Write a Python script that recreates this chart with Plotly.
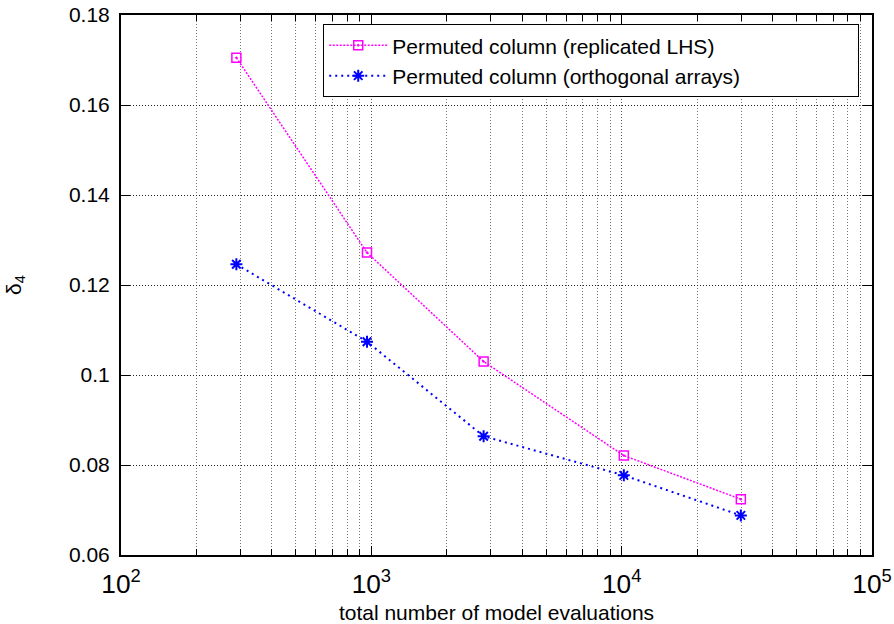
import plotly.graph_objects as go

# total number of model evaluations
n_lhs = [289, 961, 2809, 10201, 29929]
n_oa = [289, 961, 2809, 10201, 29929]

# delta_4 values
delta_lhs = [0.1705, 0.1272, 0.1030, 0.0821, 0.0724]
delta_oa = [0.1246, 0.1074, 0.0864, 0.0777, 0.0688]

names = ["Permuted column (replicated LHS)", "Permuted column (orthogonal arrays)"]

FONT = "Liberation Sans, Arial, Helvetica, sans-serif"
FS = 21

fig = go.Figure()

fig.add_trace(go.Scatter(
    x=n_lhs, y=delta_lhs, name=names[0], mode="lines+markers",
    line=dict(color="#ff00ff", width=1.5, dash="2px,1.5px"),
    marker=dict(symbol="square-open-dot", size=9, color="#ff00ff",
                line=dict(color="#ff00ff", width=1.5)),
))
fig.add_trace(go.Scatter(
    x=n_oa, y=delta_oa, name=names[1], mode="lines+markers",
    line=dict(color="#0000ff", width=2, dash="2px,4px"),
    marker=dict(symbol="asterisk-open", size=10, color="#0000ff",
                line=dict(color="#0000ff", width=2)),
))

fig.update_layout(
    width=894, height=624,
    margin=dict(l=121, r=22, t=15, b=69),
    paper_bgcolor="white", plot_bgcolor="white",
    font=dict(family=FONT, size=FS, color="black"),
    showlegend=True,
    hovermode=False,
    legend=dict(
        orientation="h", entrywidth=461, entrywidthmode="pixels",
        itemwidth=58,
        x=0.983, y=0.983, xanchor="right", yanchor="top",
        bgcolor="white", bordercolor="black", borderwidth=1,
        font=dict(size=FS),
    ),
)

fig.update_xaxes(
    type="log", range=[2, 5], dtick=1, exponentformat="power",
    showline=True, linecolor="black", linewidth=2, mirror="allticks",
    ticks="inside", ticklen=9, tickcolor="black", tickwidth=1,
    ticklabelstandoff=6, ticklabeloverflow="allow",
    showgrid=True, gridcolor="#555", griddash="1px,2px", gridwidth=1,
    zeroline=False, automargin=False,
    minor=dict(dtick="D1", ticks="inside", ticklen=6, tickcolor="black",
               showgrid=True, gridcolor="#777", griddash="1px,2px", gridwidth=1),
    title=dict(text="total number of model evaluations", font=dict(size=FS), standoff=12),
)
fig.update_yaxes(
    range=[0.06, 0.18], dtick=0.02,
    showline=True, linecolor="black", linewidth=2, mirror="allticks",
    ticks="inside", ticklen=9, tickcolor="black", tickwidth=1,
    ticklabelstandoff=5, ticklabeloverflow="allow",
    showgrid=True, gridcolor="#222", griddash="1px,2px", gridwidth=1,
    zeroline=False, automargin=False,
    title=dict(text="δ<sub>4</sub>", font=dict(size=FS), standoff=42),
)

# drop the default 8px page margin so the figure fills the window
fig.write_html("out.html", config={"displayModeBar": False},
               post_script="document.body.style.margin='0';"
                           "document.body.style.overflow='hidden';")
